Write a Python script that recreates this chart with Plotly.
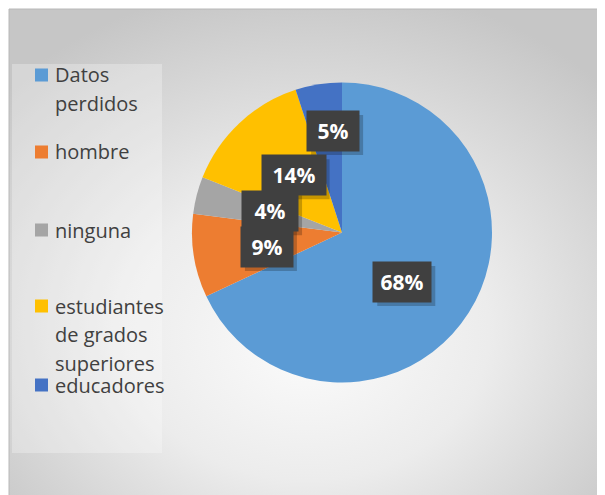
import base64
import math
import textwrap
import plotly.graph_objects as go

# ---- data ----
categories = ["Datos perdidos", "hombre", "ninguna", "estudiantes de grados superiores", "educadores"]
values = [68, 9, 4, 14, 5]
colors = ["#5B9BD5", "#ED7D31", "#A5A5A5", "#FFC000", "#4472C4"]

# ---- layout / style constants (page pixel coordinates) ----
OFF = 8                               # default page body margin
W, H = 605 - OFF, 495 - OFF           # figure size
CX, CY, R = 342, 232.5, 150           # pie centre and radius (page px)
label_rfrac = [0.52, 0.51, 0.50, 0.50, 0.68]   # label distance as fraction of radius
label_aoff = [7, -2, 2, 3, 4]                  # small angle nudges (deg)
label_w = [58, 52, 56, 64, 52]
label_h = 40
legend_first_y = [75, 152, 230, 306, 385]
legend_line_h = 28.5
FONT = "Open Sans"


def px(x):
    return (x - OFF) / W


def py(y):
    return 1 - (y - OFF) / H


fig = go.Figure()
fig.add_trace(go.Pie(
    labels=categories,
    values=values,
    sort=False,
    direction="clockwise",
    rotation=0,
    marker=dict(colors=colors, line=dict(width=0)),
    textinfo="none",
    hoverinfo="label+percent",
    showlegend=False,
    domain=dict(x=[px(CX - R), px(CX + R)], y=[py(CY + R), py(CY - R)]),
))

# background radial gradient as svg image
svg = (
    '<svg xmlns="http://www.w3.org/2000/svg" width="596" height="486">'
    '<defs><radialGradient id="g" cx="50%" cy="62%" r="68%" fx="50%" fy="70%">'
    '<stop offset="0" stop-color="#fbfbfb"/>'
    '<stop offset="0.45" stop-color="#ececec"/>'
    '<stop offset="1" stop-color="#c6c6c6"/>'
    '</radialGradient></defs>'
    '<rect width="596" height="486" fill="url(#g)"/></svg>'
)
src = "data:image/svg+xml;base64," + base64.b64encode(svg.encode()).decode()

shapes = []
annotations = []

# chart frame
shapes.append(dict(type="rect", xref="paper", yref="paper",
                   x0=px(9), x1=px(607), y0=py(497), y1=py(9),
                   line=dict(color="#b8b8b8", width=1), fillcolor="rgba(0,0,0,0)",
                   layer="below"))
# legend box
shapes.append(dict(type="rect", xref="paper", yref="paper",
                   x0=px(12), x1=px(162), y0=py(453), y1=py(64),
                   line=dict(width=0), fillcolor="rgba(255,255,255,0.28)",
                   layer="below"))

# custom legend
for i, (cat, col) in enumerate(zip(categories, colors)):
    y0 = legend_first_y[i]
    shapes.append(dict(type="rect", xref="paper", yref="paper",
                       x0=px(35), x1=px(48), y0=py(y0 + 6.5), y1=py(y0 - 6.5),
                       line=dict(width=0), fillcolor=col))
    for j, line in enumerate(textwrap.wrap(cat, 12)):
        annotations.append(dict(
            text=line, xref="paper", yref="paper",
            x=px(53), y=py(y0 + j * legend_line_h),
            xanchor="left", yanchor="middle", showarrow=False,
            font=dict(family=FONT, size=20, color="#404040")))

# data labels (boxes) computed from slice mid-angles
total = sum(values)
cum = 0
label_pos = []
for i, v in enumerate(values):
    mid = (cum + v / 2) / total * 360 + label_aoff[i]
    cum += v
    r = R * label_rfrac[i]
    x = CX + r * math.sin(math.radians(mid))
    y = CY - r * math.cos(math.radians(mid))
    label_pos.append((x, y))

pct_text = [f"<b>{round(v / total * 100)}%</b>" for v in values]

# shadows (shapes drawn above the pie, below the annotations)
for i, v in enumerate(values):
    x, y = label_pos[i]
    sx, sy = x + 4, y + 4
    shapes.append(dict(type="rect", xref="paper", yref="paper", layer="above",
                       x0=px(sx - label_w[i] / 2), x1=px(sx + label_w[i] / 2),
                       y0=py(sy + label_h / 2), y1=py(sy - label_h / 2),
                       line=dict(width=0), fillcolor="rgba(0,0,0,0.22)"))
# boxes
for i, v in enumerate(values):
    x, y = label_pos[i]
    annotations.append(dict(
        text=pct_text[i], xref="paper", yref="paper", x=px(x), y=py(y),
        xanchor="center", yanchor="middle",
        showarrow=False, width=label_w[i], height=label_h,
        bgcolor="#404040", borderpad=0, align="center", valign="middle",
        font=dict(family=FONT, size=21, color="white")))

fig.update_layout(
    width=W, height=H,
    margin=dict(l=0, r=0, t=0, b=0),
    paper_bgcolor="white",
    plot_bgcolor="rgba(0,0,0,0)",
    images=[dict(source=src, xref="paper", yref="paper",
                 x=px(9), y=py(9), sizex=596 / W, sizey=486 / H,
                 xanchor="left", yanchor="top", sizing="stretch", layer="below")],
    shapes=shapes,
    annotations=annotations,
)

fig.write_html("out.html", config={"displayModeBar": False})
